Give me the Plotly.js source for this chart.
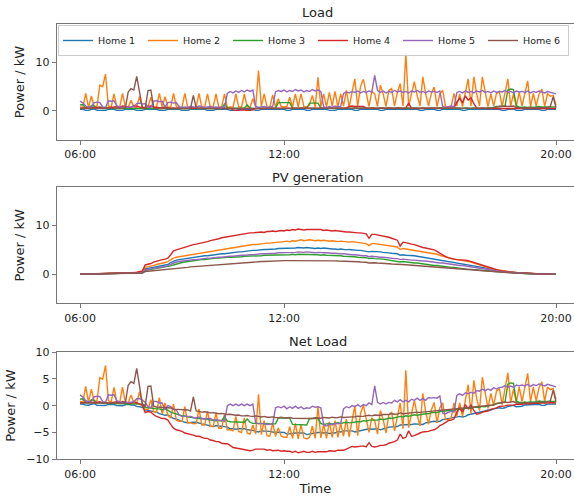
<!DOCTYPE html>
<html><head><meta charset="utf-8">
<script src="https://cdn.plot.ly/plotly-3.0.1.min.js"></script>
<style>html,body{margin:0;padding:0;background:#fff}</style>
</head><body><div id="chart" style="width:574px;height:497px"></div>
<script>
const homes = ['Home 1','Home 2','Home 3','Home 4','Home 5','Home 6'];
const colors = ['#1f77b4','#ff7f0e','#2ca02c','#d62728','#9467bd','#8c564b'];
const panelTitles = ['Load','PV generation','Net Load'];
const xTickVals = ['06:00','12:00','20:00'];
const stepMinutes = 5; // samples every 5 minutes from 06:00 to 20:00

// ---- Load (kW) ----
const loadHome1 = [
0.3,0.3,0.1,0.1,0.3,0.4,0.1,0.1,0.1,0.1,0.3,0.3,
0.3,0.1,0.1,0.1,0.3,0.4,0.3,0.3,0.1,0.1,0.1,0.3,
0.3,0.4,0.3,0.3,0.1,0.1,0.1,0.3,0.3,0.3,0.4,0.3,
0.1,0.1,0.1,0.3,0.3,0.4,0.3,0.3,0.3,0.1,0.1,0.1,
0.3,0.3,0.4,0.3,0.3,0.1,0.1,0.1,0.3,0.3,0.4,0.3,
0.3,0.3,0.1,0.1,0.3,0.4,0.3,0.3,0.3,0.3,0.4,0.3,
0.3,0.1,0.1,0.3,0.3,0.4,0.3,0.3,0.1,0.1,0.3,0.3,
0.4,0.3,0.3,0.3,0.1,0.1,0.1,0.3,0.3,0.4,0.3,0.3,
0.3,0.1,0.1,0.3,0.3,0.4,0.3,0.3,0.3,0.3,0.1,0.1,
0.3,0.4,0.3,0.3,0.3,0.3,0.4,0.3,0.3,0.3,0.4,0.3,
0.1,0.1,0.3,0.3,0.4,0.3,0.1,0.1,0.3,0.3,0.4,0.3,
0.3,0.3,0.3,0.1,0.1,0.3,0.3,0.4,0.3,0.3,0.3,0.3,
0.4,0.3,0.3,0.3,0.3,0.1,0.1,0.3,0.3,0.4,0.1,0.1,
0.1,0.3,0.3,0.4,0.3,0.3,0.3,0.1,0.1,0.3,0.3,0.3,
0.3];
const loadHome2 = [
0.8,0.7,3.6,0.7,3.1,0.8,1.0,5.3,5.0,7.6,1.0,0.8,
3.5,0.8,0.7,3.6,0.8,0.7,2.2,0.8,0.7,3.0,0.8,0.7,
0.8,2.8,0.7,0.8,3.6,0.7,2.9,0.8,0.7,3.6,0.8,0.7,
0.8,3.6,0.7,0.8,0.7,0.8,3.6,0.7,0.8,3.5,0.7,0.8,
3.5,0.7,0.8,3.5,0.7,0.8,0.7,3.5,0.8,0.7,3.5,0.8,
0.7,2.5,0.8,8.3,0.9,3.5,0.8,0.7,3.3,0.8,2.5,0.9,
0.8,0.9,2.8,0.8,3.5,0.8,3.5,0.9,0.8,1.2,3.2,0.8,
6.9,0.9,3.5,0.8,3.8,1.0,4.0,0.8,3.5,1.0,4.2,0.8,
3.8,6.6,0.9,5.0,6.5,3.6,0.9,4.0,3.5,0.9,5.3,3.5,
0.9,4.2,4.6,1.0,3.8,5.6,1.0,11.8,1.0,3.5,6.0,3.2,
1.0,7.0,3.5,1.0,3.6,4.9,0.9,3.5,4.2,0.9,0.8,0.9,
3.6,1.0,3.5,0.9,3.8,6.6,1.0,7.0,3.5,1.0,7.0,3.6,
0.9,3.5,1.0,3.6,4.0,0.9,3.5,6.6,1.0,3.5,0.9,3.8,
1.0,3.5,6.2,0.9,3.6,1.0,3.4,4.5,0.9,3.5,3.0,3.2,
1.2];
const loadHome3 = [
1.2,1.3,0.6,0.5,1.1,1.0,0.5,0.6,0.5,0.5,0.6,0.5,
0.5,0.6,0.5,0.5,0.6,0.5,0.5,0.6,0.5,0.5,0.6,0.5,
0.5,0.6,0.5,0.5,0.6,0.5,0.9,0.6,0.5,0.5,0.6,0.5,
0.5,0.6,0.5,0.5,0.6,0.5,0.5,0.6,0.5,0.5,0.6,0.5,
0.5,0.6,0.5,1.4,0.6,0.5,0.5,0.6,0.5,0.5,0.6,1.2,
0.6,0.5,0.5,0.6,0.5,0.5,0.6,0.5,0.5,0.6,1.7,1.7,
1.8,1.7,1.7,0.6,0.5,0.5,0.6,0.5,0.5,1.6,1.6,1.7,
1.6,0.6,0.5,0.5,0.6,0.5,0.5,0.6,0.5,0.5,0.6,0.5,
0.5,0.6,0.5,0.5,0.6,0.5,0.5,0.6,0.5,0.5,0.6,0.5,
0.5,0.6,0.5,0.5,0.6,0.5,0.5,0.6,0.5,0.5,0.6,0.5,
0.5,0.6,0.5,0.5,0.6,0.5,0.5,0.6,0.5,0.5,0.6,0.5,
0.5,0.6,0.5,0.5,0.6,0.5,0.5,0.6,0.5,0.5,0.6,0.5,
0.6,0.6,0.7,0.9,0.9,1.0,1.0,4.3,4.5,4.4,1.0,0.8,
0.7,0.8,0.7,0.8,0.7,0.8,0.9,0.8,0.8,0.9,0.8,0.8,
0.8];
const loadHome4 = [
0.5,0.6,0.6,0.7,0.7,0.6,0.7,0.8,0.6,0.7,0.6,0.7,
0.8,0.9,0.7,1.0,0.9,0.8,0.7,1.1,0.9,0.8,0.7,0.6,
0.9,1.0,0.8,0.7,0.6,0.6,0.7,0.6,0.5,0.6,0.5,0.6,
0.6,0.5,0.6,0.5,0.6,0.5,0.6,0.5,0.5,0.6,0.5,0.5,
0.5,0.6,0.5,0.5,0.6,0.5,0.2,0.1,0.1,0.2,0.1,0.1,
0.1,0.2,0.5,0.5,0.6,0.5,0.5,0.6,0.5,0.5,0.6,0.5,
0.5,0.6,0.5,0.5,0.6,0.5,0.5,0.6,0.5,0.5,0.6,0.5,
0.5,0.6,0.5,0.5,0.6,0.5,0.5,0.6,0.5,0.5,0.6,0.9,
1.0,0.9,0.9,1.0,0.9,0.6,0.5,0.6,0.5,0.5,0.6,0.5,
0.5,0.6,0.5,0.5,0.6,0.5,0.5,0.6,1.6,0.5,0.5,0.6,
0.5,0.6,0.5,0.5,0.6,0.5,0.5,0.6,0.5,0.5,0.6,0.5,
0.6,1.8,2.6,1.7,3.1,2.2,2.7,1.5,0.6,0.5,0.6,0.5,
0.5,0.6,0.5,0.5,0.6,0.5,0.5,0.6,0.5,0.5,0.6,0.5,
0.5,0.6,0.5,0.5,0.6,0.5,0.5,0.6,0.5,0.5,0.6,0.5,
0.5];
const loadHome5 = [
2.0,1.6,1.0,0.7,0.8,1.7,1.8,1.7,0.8,0.7,2.1,2.0,
2.1,1.0,0.8,0.7,0.8,0.7,0.8,0.9,1.5,1.6,1.4,1.5,
0.8,0.7,2.0,2.1,1.9,2.0,0.8,1.7,1.8,1.6,1.7,0.8,
0.7,0.8,0.7,0.9,0.8,0.7,1.0,0.8,0.7,0.8,0.9,0.7,
0.8,0.7,0.8,0.7,3.6,4.0,3.7,4.1,3.8,4.2,3.9,4.3,
4.0,4.3,0.9,0.7,0.8,0.9,0.7,0.8,0.9,3.9,4.2,4.0,
4.3,3.9,4.2,4.0,4.4,4.1,4.3,3.9,4.2,4.0,4.4,4.1,
4.3,4.0,0.8,0.6,0.9,0.7,1.0,0.8,0.9,3.6,3.9,3.7,
4.0,3.8,4.1,3.7,4.0,3.8,4.1,3.9,7.3,4.2,3.8,4.1,
3.7,4.0,3.8,4.2,3.9,4.1,3.8,4.0,3.7,4.1,3.9,4.2,
3.8,4.0,3.7,4.1,3.9,4.0,3.8,4.1,0.9,0.7,0.8,1.0,
0.8,3.8,4.0,3.7,4.1,3.8,4.0,3.7,4.1,3.9,4.2,3.8,
4.0,3.7,4.1,3.8,4.0,3.9,4.2,3.8,4.0,3.7,4.1,3.9,
4.0,3.8,4.1,3.7,4.0,3.8,4.1,3.9,3.7,4.0,3.8,3.6,
3.5];
const loadHome6 = [
0.5,0.5,0.6,0.5,0.5,0.6,0.5,0.5,0.6,0.5,0.5,0.6,
0.5,0.6,0.5,0.5,0.6,3.9,4.6,4.3,7.1,3.9,0.6,0.5,
4.2,4.3,0.6,0.5,0.5,0.6,0.5,0.5,0.6,0.5,0.5,0.6,
0.5,0.5,0.6,0.5,3.2,0.6,0.5,0.5,0.6,0.5,0.5,0.6,
0.5,0.5,0.6,0.5,0.5,0.6,0.5,0.5,0.6,0.5,0.5,0.6,
0.5,0.5,0.6,0.5,0.5,0.6,0.5,0.5,0.6,0.5,0.5,0.6,
0.5,0.5,0.6,0.5,0.5,0.6,0.5,0.5,0.6,0.5,0.5,0.6,
0.5,0.5,0.6,0.5,0.5,0.6,0.5,0.5,0.6,0.5,0.5,0.6,
0.5,0.5,0.6,0.5,0.5,0.6,0.5,0.5,0.6,0.5,0.5,0.6,
0.5,0.5,0.6,0.5,0.5,0.6,0.5,0.5,0.6,0.5,0.5,0.6,
0.5,0.5,0.6,0.5,0.5,0.6,0.5,0.5,0.6,0.5,0.5,0.6,
0.5,0.5,0.6,0.5,0.5,0.6,0.5,0.5,0.6,0.5,0.5,0.6,
0.5,0.6,0.6,0.8,0.9,1.0,1.0,0.9,1.0,1.0,0.7,0.6,
0.6,0.6,0.6,0.7,0.6,0.6,0.6,0.7,0.6,0.7,0.9,2.9,
0.7];

// ---- PV generation (kW) ----
const pvHome1 = [
0.00,0.01,0.01,0.02,0.03,0.03,0.04,0.05,0.06,0.06,0.07,0.08,
0.09,0.10,0.11,0.13,0.14,0.16,0.18,0.20,0.24,0.30,0.40,1.10,
1.2,1.3,1.4,1.5,1.6,1.8,1.9,2.0,2.4,2.7,2.9,3.0,
3.1,3.2,3.3,3.4,3.4,3.5,3.6,3.7,3.8,3.8,3.9,4.0,
4.0,4.1,4.2,4.2,4.3,4.4,4.4,4.5,4.6,4.6,4.7,4.8,
4.8,4.9,4.9,5.0,5.0,5.1,5.1,5.1,5.2,5.2,5.3,5.3,
5.3,5.4,5.3,5.4,5.4,5.5,5.4,5.4,5.5,5.4,5.4,5.3,
5.4,5.3,5.4,5.3,5.3,5.2,5.2,5.1,5.2,5.1,5.0,5.1,
5.0,5.0,4.9,4.9,4.8,4.8,4.6,4.7,4.7,4.6,4.6,4.5,
4.5,4.4,4.3,4.3,4.2,3.9,4.0,3.9,3.9,3.8,3.8,3.7,
3.6,3.6,3.5,3.4,3.3,3.2,3.1,3.0,2.9,2.8,2.7,2.6,
2.5,2.4,2.3,2.2,2.1,2.0,1.9,1.8,1.6,1.5,1.4,1.3,
1.2,1.1,0.9,0.8,0.7,0.6,0.5,0.45,0.4,0.35,0.3,0.25,
0.2,0.17,0.14,0.11,0.09,0.07,0.05,0.04,0.03,0.02,0.01,0.01,
0.0];
const pvHome2 = [
0.00,0.01,0.02,0.02,0.03,0.04,0.05,0.06,0.07,0.08,0.09,0.10,
0.11,0.13,0.14,0.16,0.18,0.20,0.23,0.26,0.30,0.38,0.50,1.40,
1.5,1.7,1.8,2.0,2.1,2.3,2.4,2.6,3.0,3.3,3.5,3.6,
3.7,3.8,3.9,4.0,4.1,4.1,4.2,4.3,4.4,4.5,4.6,4.7,
4.8,4.9,5.0,5.1,5.2,5.3,5.4,5.5,5.6,5.7,5.8,5.9,
6.0,6.1,6.1,6.2,6.3,6.3,6.4,6.4,6.5,6.5,6.6,6.6,
6.7,6.8,6.7,6.9,6.8,7.0,7.1,6.9,7.0,7.1,7.0,6.9,
7.0,6.9,7.0,6.9,6.8,6.9,6.8,6.7,6.8,6.7,6.7,6.6,
6.7,6.6,6.5,6.5,6.4,6.3,5.9,6.3,6.3,6.2,6.2,6.1,
6.0,5.9,5.8,5.7,5.6,5.1,5.3,5.2,5.1,5.0,5.0,4.9,
4.8,4.7,4.6,4.5,4.4,4.3,4.1,3.9,3.7,3.5,3.4,3.2,
3.1,3.0,3.0,2.9,2.8,2.7,2.5,2.3,2.1,1.9,1.7,1.5,
1.4,1.2,1.0,0.9,0.8,0.7,0.6,0.5,0.45,0.4,0.35,0.3,
0.25,0.2,0.17,0.14,0.11,0.09,0.07,0.05,0.04,0.03,0.02,0.01,
0.0];
const pvHome3 = [
0.00,0.01,0.01,0.01,0.02,0.02,0.03,0.03,0.04,0.05,0.05,0.06,
0.07,0.08,0.09,0.10,0.11,0.12,0.14,0.16,0.18,0.22,0.30,0.80,
0.9,1.0,1.0,1.1,1.2,1.3,1.4,1.5,1.7,1.9,2.1,2.2,
2.4,2.5,2.6,2.7,2.8,2.9,2.9,3.0,3.0,3.1,3.2,3.2,
3.3,3.3,3.4,3.4,3.5,3.5,3.5,3.6,3.6,3.6,3.7,3.7,
3.7,3.8,3.8,3.8,3.8,3.9,3.9,3.9,3.9,4.0,4.0,4.0,
4.0,4.0,4.0,4.1,4.0,4.1,4.1,4.0,4.1,4.0,4.0,4.0,
4.0,3.9,4.0,3.9,3.9,3.9,3.8,3.8,3.8,3.7,3.7,3.7,
3.6,3.6,3.5,3.5,3.4,3.4,3.2,3.3,3.2,3.2,3.1,3.1,
3.0,2.9,2.9,2.8,2.7,2.5,2.6,2.5,2.5,2.4,2.3,2.3,
2.2,2.1,2.0,2.0,1.9,1.8,1.8,1.7,1.6,1.5,1.5,1.4,
1.4,1.3,1.2,1.2,1.1,1.0,1.0,0.9,0.85,0.8,0.75,0.7,
0.65,0.6,0.55,0.5,0.45,0.4,0.35,0.3,0.27,0.24,0.2,0.17,
0.14,0.12,0.1,0.08,0.06,0.05,0.04,0.03,0.02,0.02,0.01,0.01,
0.0];
const pvHome4 = [
0.00,0.01,0.02,0.03,0.04,0.05,0.06,0.08,0.09,0.10,0.12,0.13,
0.15,0.17,0.19,0.21,0.24,0.27,0.30,0.34,0.40,0.50,0.65,1.90,
2.0,2.2,2.5,2.7,2.8,3.0,3.1,3.3,4.0,4.8,5.0,5.2,
5.4,5.6,5.8,5.9,6.1,6.2,6.3,6.4,6.6,6.7,6.9,7.0,
7.2,7.3,7.5,7.6,7.7,7.9,8.0,8.0,8.1,8.3,8.3,8.4,
8.5,8.5,8.6,8.6,8.7,8.6,8.8,8.8,8.9,8.8,8.9,9.0,
8.9,9.1,9.0,9.2,9.1,9.3,9.2,9.1,9.2,9.2,9.1,9.2,
9.1,9.2,9.0,9.1,9.0,8.9,9.0,8.9,8.8,8.8,8.7,8.7,
8.6,8.6,8.5,8.5,8.4,8.3,7.4,8.2,8.2,8.1,8.0,7.9,
7.8,7.6,7.4,7.2,7.0,5.8,6.6,6.5,6.3,6.2,6.1,5.9,
5.6,5.5,5.4,5.3,5.2,5.0,4.7,4.3,4.0,3.6,3.4,3.2,
3.1,3.0,3.0,2.9,2.9,2.8,2.6,2.4,2.2,2.0,1.8,1.6,
1.5,1.3,1.1,0.9,0.75,0.65,0.55,0.5,0.45,0.4,0.35,0.3,
0.25,0.2,0.17,0.14,0.11,0.09,0.07,0.05,0.04,0.03,0.02,0.01,
0.0];
const pvHome5 = [
0.00,0.01,0.01,0.02,0.02,0.03,0.04,0.04,0.05,0.06,0.06,0.07,
0.08,0.09,0.10,0.11,0.13,0.14,0.16,0.18,0.21,0.26,0.35,0.90,
1.0,1.1,1.2,1.3,1.4,1.5,1.6,1.7,2.0,2.3,2.5,2.6,
2.7,2.8,2.8,2.9,3.0,3.0,3.1,3.2,3.2,3.3,3.3,3.4,
3.4,3.5,3.5,3.6,3.6,3.7,3.7,3.8,3.8,3.9,3.9,4.0,
4.0,4.0,4.1,4.1,4.2,4.2,4.2,4.3,4.3,4.3,4.4,4.4,
4.4,4.5,4.4,4.5,4.5,4.6,4.5,4.5,4.6,4.5,4.5,4.4,
4.5,4.4,4.4,4.4,4.3,4.3,4.3,4.2,4.2,4.2,4.1,4.1,
4.0,4.0,3.9,3.9,3.8,3.8,3.6,3.7,3.6,3.6,3.5,3.5,
3.4,3.4,3.3,3.2,3.2,3.0,3.1,3.0,3.0,2.9,2.9,2.8,
2.8,2.7,2.7,2.6,2.5,2.5,2.4,2.3,2.3,2.2,2.1,2.0,
2.0,1.9,1.8,1.8,1.7,1.6,1.5,1.4,1.3,1.2,1.1,1.0,
0.9,0.85,0.75,0.7,0.6,0.5,0.45,0.4,0.35,0.3,0.25,0.2,
0.17,0.14,0.12,0.1,0.08,0.06,0.05,0.04,0.03,0.02,0.01,0.01,
0.0];
const pvHome6 = [
0.00,0.01,0.01,0.01,0.02,0.02,0.02,0.03,0.03,0.04,0.04,0.05,
0.05,0.06,0.07,0.08,0.09,0.10,0.11,0.13,0.15,0.18,0.25,0.55,
0.6,0.65,0.7,0.75,0.8,0.85,0.9,0.95,1.05,1.15,1.2,1.25,
1.3,1.35,1.4,1.5,1.55,1.6,1.65,1.7,1.75,1.8,1.85,1.9,
1.95,2.0,2.05,2.1,2.15,2.2,2.25,2.3,2.35,2.4,2.4,2.45,
2.45,2.5,2.5,2.55,2.6,2.6,2.65,2.65,2.7,2.7,2.75,2.75,
2.8,2.8,2.8,2.85,2.85,2.9,2.85,2.9,2.9,2.85,2.9,2.85,
2.85,2.85,2.8,2.8,2.8,2.75,2.75,2.7,2.7,2.7,2.65,2.65,
2.6,2.6,2.55,2.5,2.5,2.45,2.3,2.4,2.35,2.3,2.3,2.25,
2.2,2.15,2.1,2.1,2.05,1.95,2.0,1.95,1.9,1.85,1.8,1.8,
1.75,1.7,1.65,1.6,1.55,1.5,1.45,1.4,1.35,1.3,1.25,1.2,
1.15,1.1,1.05,1.0,0.95,0.9,0.85,0.8,0.75,0.7,0.65,0.6,
0.55,0.5,0.47,0.43,0.4,0.36,0.33,0.3,0.27,0.24,0.21,0.18,
0.15,0.13,0.11,0.09,0.07,0.06,0.05,0.04,0.03,0.02,0.01,0.01,
0.0];

const loads = [loadHome1, loadHome2, loadHome3, loadHome4, loadHome5, loadHome6];
const pvs = [pvHome1, pvHome2, pvHome3, pvHome4, pvHome5, pvHome6];

const day = '2024-01-01 ';
function stamp(totalMin) {
  const h = Math.floor(totalMin / 60), m = totalMin % 60;
  return day + String(h).padStart(2,'0') + ':' + String(m).padStart(2,'0');
}
const times = loadHome1.map((_, i) => stamp(6 * 60 + i * stepMinutes));

const traces = [];
for (let p = 0; p < 3; p++) {
  const ax = p === 0 ? '' : String(p + 1);
  for (let h = 0; h < homes.length; h++) {
    let y;
    if (p === 0) y = loads[h];
    else if (p === 1) y = pvs[h];
    else y = loads[h].map((v, i) => +(v - pvs[h][i]).toFixed(3));
    traces.push({
      type: 'scatter', mode: 'lines', x: times, y: y,
      name: homes[h], legendgroup: homes[h], showlegend: p === 0,
      line: {color: colors[h], width: 1.4},
      xaxis: 'x' + ax, yaxis: 'y' + ax, hoverinfo: 'skip'
    });
  }
}

const W = 574, H = 497;
const xDom = [56.7 / W, 1];
const yDoms = [[1 - 140 / H, 1 - 24 / H], [1 - 303.3 / H, 1 - 187.3 / H], [1 - 459.3 / H, 1 - 352 / H]];
const xRange = [day + '05:18:50', day + '20:31:46'];
const lineCol = '#777';
const tickFont = {family: 'DejaVu Sans', size: 11, color: '#222'};

function xAxis(p) {
  const a = {
    domain: xDom, anchor: p === 0 ? 'y' : 'y' + (p + 1), type: 'date', range: xRange,
    tickvals: xTickVals.map(t => day + t), ticktext: xTickVals,
    showline: true, linecolor: lineCol, linewidth: 1, mirror: true,
    ticks: 'outside', ticklen: 4, tickwidth: 1, tickcolor: lineCol,
    showgrid: false, zeroline: false, tickfont: tickFont, fixedrange: true
  };
  if (p === 2) a.title = {text: 'Time', font: {family: 'DejaVu Sans', size: 13, color: '#222'}, standoff: 4};
  return a;
}
function yAxis(p) {
  return {
    domain: yDoms[p], anchor: p === 0 ? 'x' : 'x' + (p + 1),
    range: p === 2 ? [-10, 10] : [-6, 17.9],
    tickvals: p === 2 ? [-10, -5, 0, 5, 10] : [0, 10],
    showline: true, linecolor: lineCol, linewidth: 1,
    ticks: 'outside', ticklen: 4, tickwidth: 1, tickcolor: lineCol,
    showgrid: false, zeroline: false, tickfont: tickFont, fixedrange: true,
    title: {text: 'Power / kW', font: {family: 'DejaVu Sans', size: 13, color: '#222'}, standoff: 7}
  };
}

const titleY = [13, 177, 341];
const layout = {
  width: W, height: H, margin: {l: 0, r: 0, t: 0, b: 0},
  paper_bgcolor: '#fff', plot_bgcolor: '#fff',
  font: {family: 'DejaVu Sans', color: '#222'},
  xaxis: xAxis(0), yaxis: yAxis(0),
  xaxis2: xAxis(1), yaxis2: yAxis(1),
  xaxis3: xAxis(2), yaxis3: yAxis(2),
  annotations: panelTitles.map((t, i) => ({
    text: t, xref: 'paper', yref: 'paper', x: 317.5 / W, y: 1 - titleY[i] / H,
    xanchor: 'center', yanchor: 'middle', showarrow: false,
    font: {family: 'DejaVu Sans', size: 13, color: '#222'}
  })),
  legend: {
    orientation: 'h', x: 58 / W, xanchor: 'left', y: 1 - 25 / H, yanchor: 'top',
    font: {family: 'DejaVu Sans', size: 9.5, color: '#222'},
    bgcolor: 'rgba(255,255,255,0.85)', bordercolor: '#ccc', borderwidth: 1,
    entrywidth: 40, entrywidthmode: 'pixels', itemclick: false
  },
  showlegend: true
};

Plotly.newPlot('chart', traces, layout, {staticPlot: true, displayModeBar: false});
</script>
</body></html>
